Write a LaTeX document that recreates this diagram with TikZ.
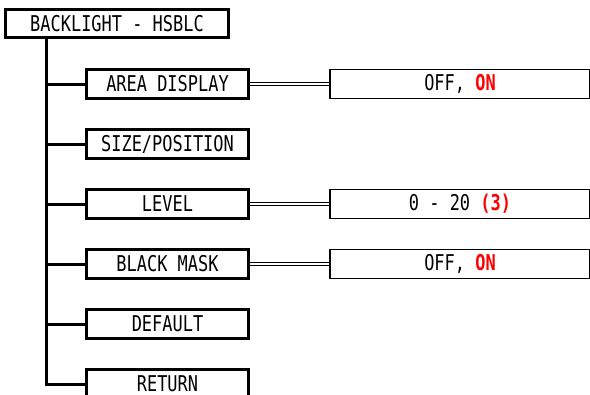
\documentclass[tikz,border=0pt]{standalone}
\usepackage{fontspec}
\newfontfamily\gothic[FakeStretch=0.78]{DejaVu Sans Mono}
\usetikzlibrary{calc}
\definecolor{onred}{RGB}{255,0,0}

\tikzset{
    menubox/.style={rectangle, draw, line width=2.25pt, inner sep=0pt,
        minimum width=121.5pt, minimum height=21.75pt,
        font=\gothic\fontsize{16.3}{16.3}\selectfont},
    topbox/.style={menubox, minimum width=167.25pt, minimum height=21pt},
    valbox/.style={menubox, line width=1.1pt, minimum width=195pt},
    branch/.style={line width=2.25pt, line join=miter},
    dblink/.style={draw=black, double=white, double distance=0.9pt, line width=0.7pt}
}
\newcommand{\on}[1]{\textcolor{onred}{\bfseries #1}}

\begin{document}
\begin{tikzpicture}[x=0.75pt, y=-0.75pt]
    \useasboundingbox (0, 0) rectangle (590, 394);

    \draw (117, 23.5) node[topbox] (top) {BACKLIGHT - HSBLC};
    \coordinate (tr) at (46.5, 38);

    \draw (167.5, 84) node[menubox] (area) {AREA DISPLAY};
    \draw (167.5, 144) node[menubox] (size) {SIZE/POSITION};
    \draw (167.5, 204) node[menubox] (level) {LEVEL};
    \draw (167.5, 264) node[menubox] (mask) {BLACK MASK};
    \draw (167.5, 324) node[menubox] (def) {DEFAULT};
    \draw (167.5, 384) node[menubox] (ret) {RETURN};

    \foreach \n in {area, size, level, mask, def, ret}
        \draw[branch] (tr) |- (\n.west);

    % value boxes
    \draw (460, 84) node[valbox] (areav) {OFF,~\on{ON}};
    \draw (460, 204) node[valbox] (levelv) {0 - 20 \on{(3)}};
    \draw (460, 264) node[valbox] (maskv) {OFF,~\on{ON}};

    \draw[dblink] (area.east) -- (areav.west);
    \draw[dblink] (level.east) -- (levelv.west);
    \draw[dblink] (mask.east) -- (maskv.west);
\end{tikzpicture}
\end{document}
